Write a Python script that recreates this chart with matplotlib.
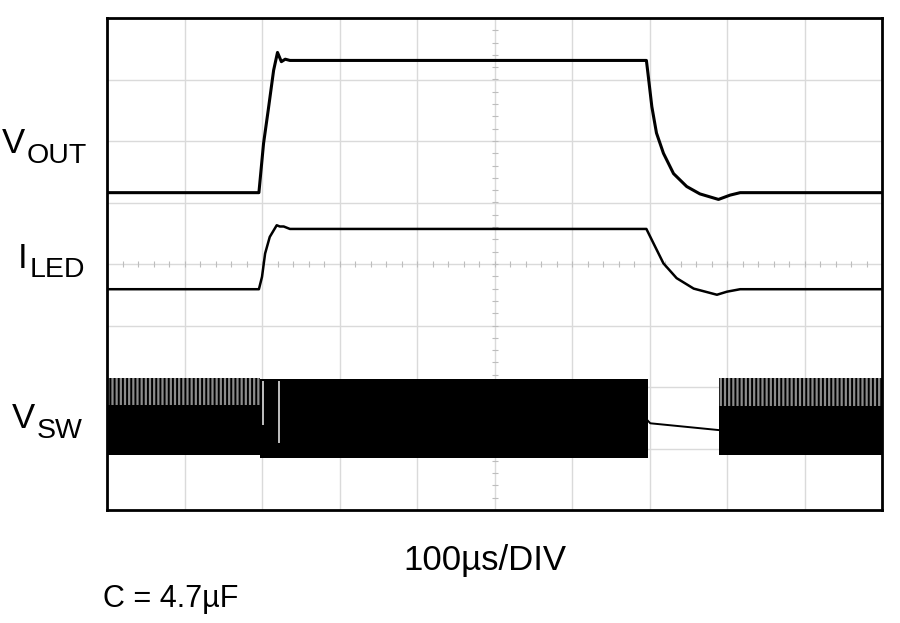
#!/usr/bin/env python3
"""Scope capture: VOUT / ILED / VSW during PWM dimming step (C = 4.7uF)."""
import numpy as np
import matplotlib
matplotlib.use("Agg")
import matplotlib.pyplot as plt

# --- traces, time in us (100us/DIV), level in screen divisions (0..8) ---
vout_t = [0, 196, 202, 208, 215, 220, 225, 230, 236, 696, 698, 703, 709, 718,
          731, 748, 765, 789, 804, 817, 1000]
vout_v = [5.16, 5.16, 5.96, 6.50, 7.15, 7.44, 7.29, 7.33, 7.31, 7.31, 7.10, 6.56,
          6.13, 5.80, 5.47, 5.26, 5.14, 5.05, 5.12, 5.16, 5.16]

iled_t = [0, 196, 200, 204, 210, 219, 223, 228, 236, 696, 705, 718, 735, 757,
          787, 800, 817, 1000]
iled_v = [3.59, 3.59, 3.79, 4.17, 4.44, 4.63, 4.61, 4.61, 4.57, 4.57, 4.34,
          4.01, 3.77, 3.60, 3.50, 3.55, 3.59, 3.59]

# switch node: light-load bursts, continuous switching, idle between
vsw_burst_start = [0, 790]
vsw_burst_end = [197, 1000]
vsw_burst_top = [2.15, 2.14]
vsw_burst_mid = [1.71, 1.69]
vsw_burst_bot = [0.89, 0.89]
vsw_run_t = [197, 698]
vsw_run_top = 2.13
vsw_run_bot = 0.84
vsw_idle_t = [698, 701, 789]
vsw_idle_v = [1.45, 1.41, 1.30]
vsw_gap_t = [201, 222]
vsw_gap_lo = [1.38, 1.09]

# (main letter, subscript, x1, baseline1, x2, baseline2) in pixels
labels = [("V", "OUT", 2, 153, 27, 163),
          ("I", "LED", 18, 268, 30, 277),
          ("V", "SW", 12, 428, 37, 438)]

W, H = 900, 623
plt.rcParams["hatch.linewidth"] = 1.4
fig = plt.figure(figsize=(W / 100, H / 100), dpi=100)
ax = fig.add_axes([107 / W, (H - 510) / H, 775 / W, 492 / H])
ax.set_xlim(0, 1000)
ax.set_ylim(0, 8)

# graticule
for gx in np.arange(100, 1000, 100):
    ax.axvline(gx, color="#dadada", lw=1.0, zorder=0)
for gy in np.arange(1, 8):
    ax.axhline(gy, color="#dadada", lw=1.0, zorder=0)
mx = np.arange(20, 1000, 20)
ax.plot(mx, np.full_like(mx, 4.0, dtype=float), ls="none", marker="|",
        ms=4, mew=0.8, color="#bdbdbd", zorder=0)
my = np.arange(0.2, 8, 0.2)
ax.plot(np.full_like(my, 500.0), my, ls="none", marker="_",
        ms=4, mew=0.8, color="#bdbdbd", zorder=0)

# VSW
for s, e, top, mid, bot in zip(vsw_burst_start, vsw_burst_end, vsw_burst_top,
                               vsw_burst_mid, vsw_burst_bot):
    ax.fill_between([s, e], mid, top, facecolor="#8c8c8c", edgecolor="black",
                    hatch="||||", lw=0, zorder=2)
    ax.fill_between([s, e], bot, mid, color="black", lw=0, zorder=2)
ax.fill_between(vsw_run_t, vsw_run_bot, vsw_run_top, color="black", lw=0, zorder=2)
ax.vlines(vsw_gap_t, vsw_gap_lo, vsw_run_top - 0.03, color="#e0e0e0", lw=1.2, zorder=3)
ax.plot(vsw_idle_t, vsw_idle_v, color="black", lw=1.4, zorder=3)

# VOUT, ILED
ax.plot(vout_t, vout_v, color="black", lw=2.2, zorder=4, solid_joinstyle="round")
ax.plot(iled_t, iled_v, color="black", lw=1.8, zorder=4, solid_joinstyle="round")

ax.set_xticks([])
ax.set_yticks([])
for sp in ax.spines.values():
    sp.set_linewidth(2.0)
    sp.set_color("black")

fam = ["Liberation Sans", "DejaVu Sans"]
for big, sub, x1, y1, x2, y2 in labels:
    fig.text(x1 / W, 1 - y1 / H, big, fontsize=25, family=fam, va="baseline")
    fig.text(x2 / W, 1 - y2 / H, sub, fontsize=20.5, family=fam, va="baseline")
fig.text(403 / W, 1 - 570 / H, "100µs/DIV", fontsize=25, family=fam, va="baseline")
fig.text(103 / W, 1 - 607 / H, "C = 4.7µF", fontsize=22, family=fam, va="baseline")

fig.savefig("out.png", dpi=100, facecolor="white")
plt.close(fig)
